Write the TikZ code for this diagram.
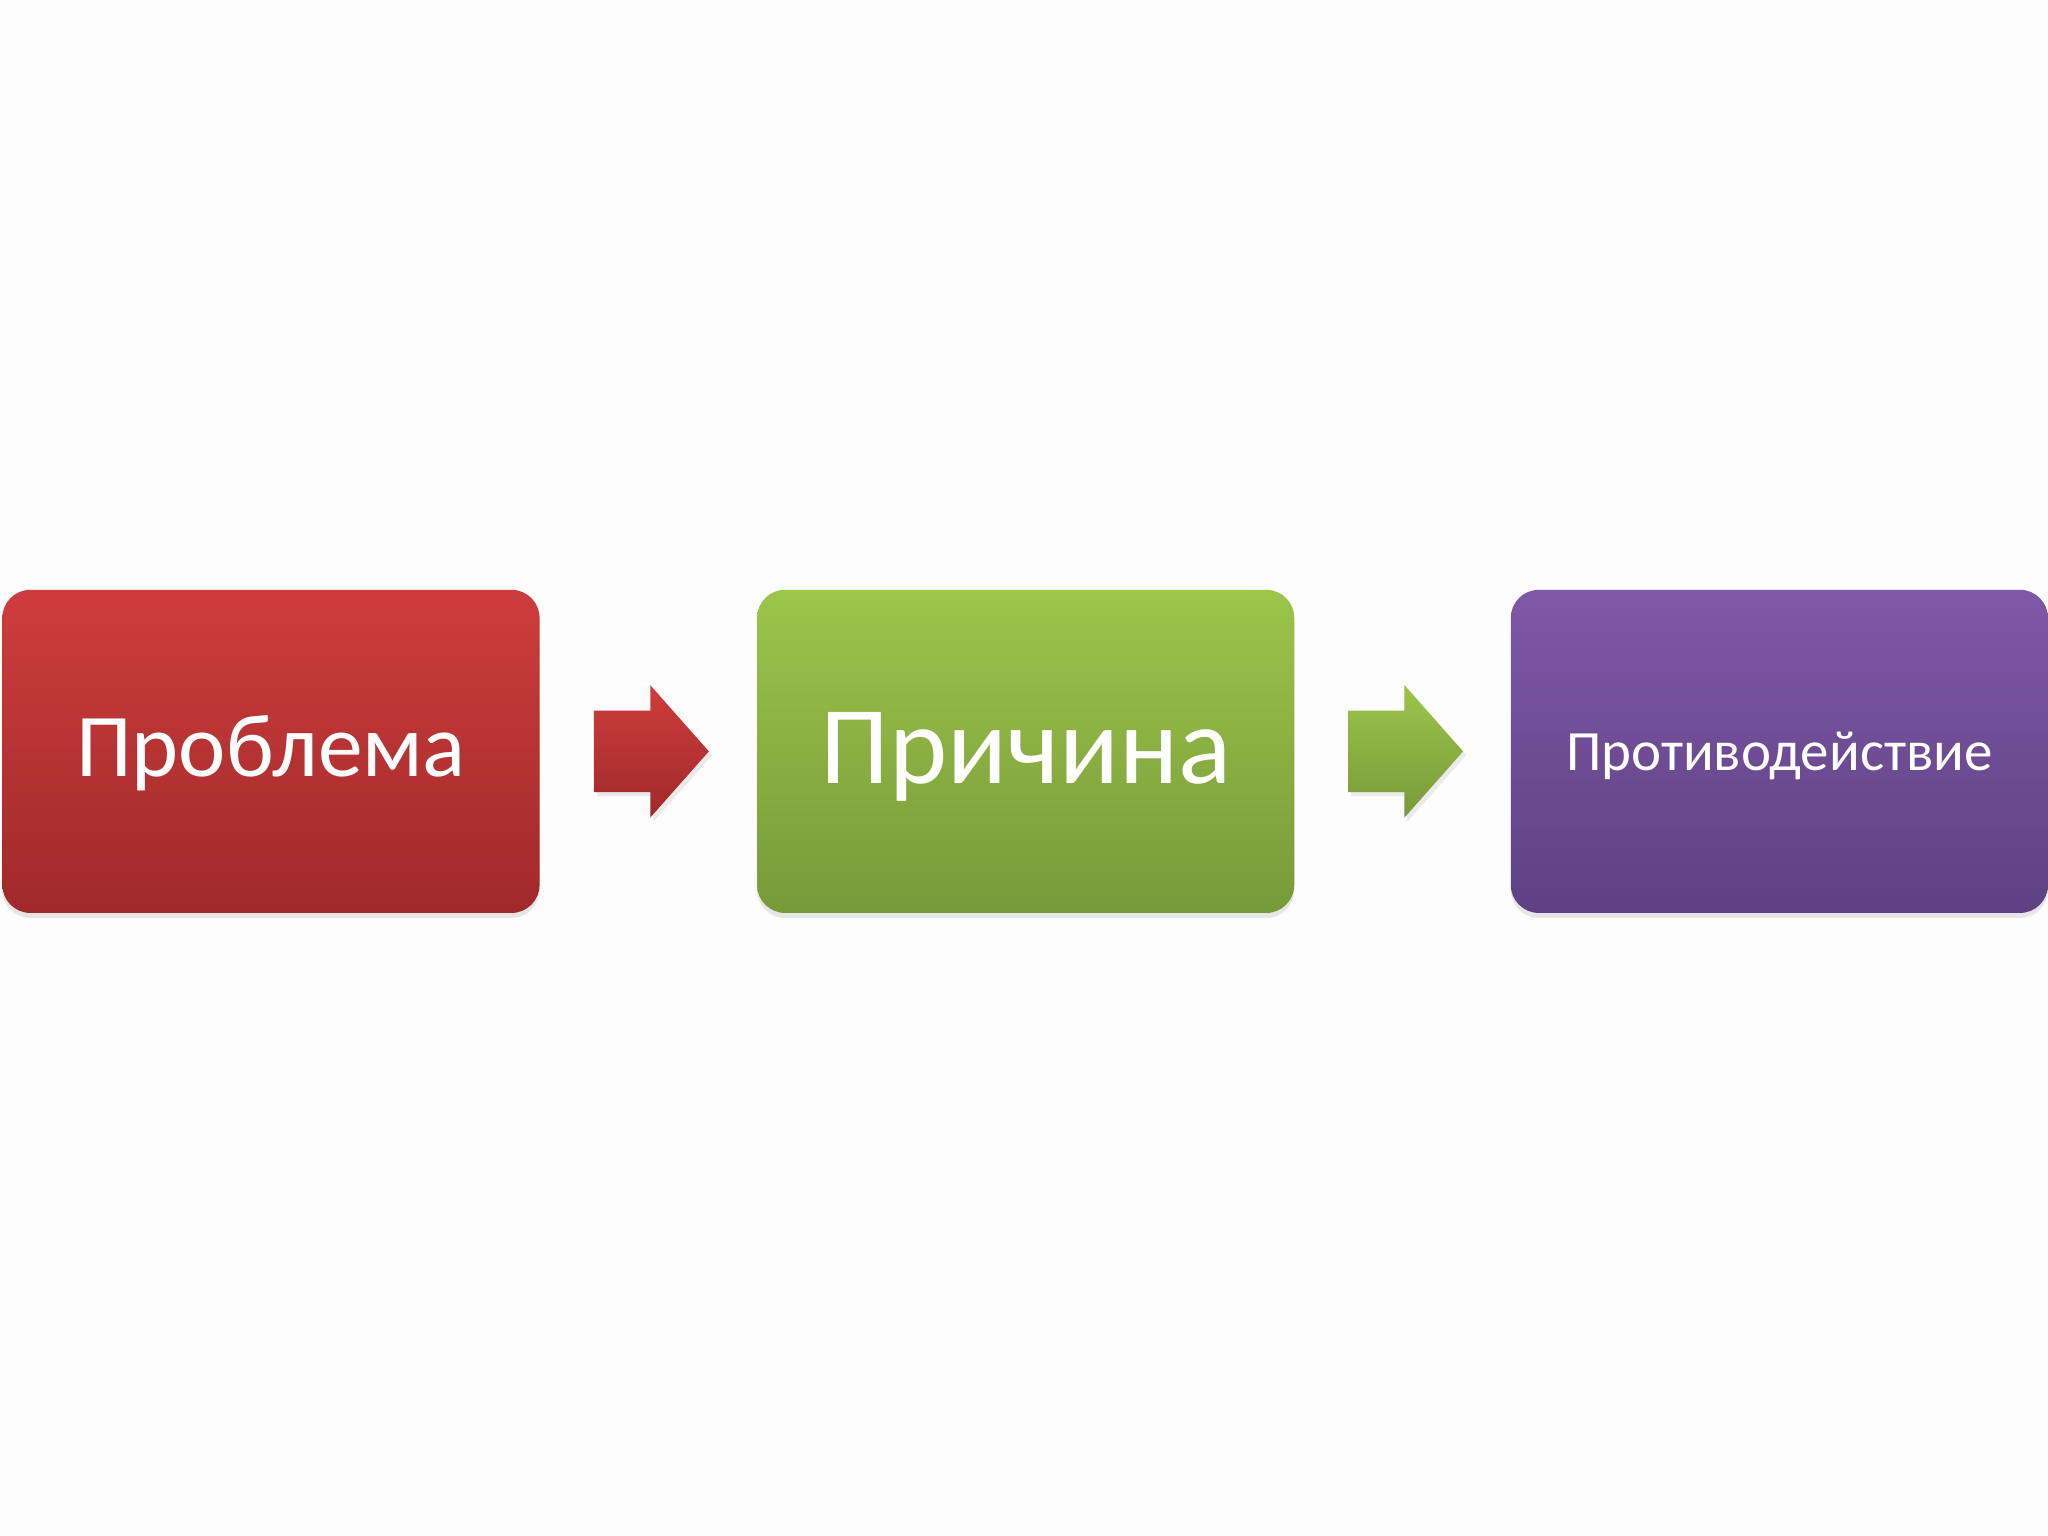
\documentclass[tikz,border=0pt]{standalone}
\usepackage{fontspec}
\setmainfont{Carlito}
\usetikzlibrary{positioning,shapes.arrows,shadows,calc}
\definecolor{bgwhite}{HTML}{FDFDFD}
\definecolor{redtop}{HTML}{CE3D3C}
\definecolor{redbot}{HTML}{A0292A}
\definecolor{greentop}{HTML}{9CC54A}
\definecolor{greenbot}{HTML}{779A39}
\definecolor{violettop}{HTML}{7F58A7}
\definecolor{violetbot}{HTML}{5E4183}
\tikzset{
    %Define style for the coloured boxes
    stage/.style={
           rectangle,
           rounded corners=0.28cm,
           minimum width=5.37cm,
           minimum height=3.23cm,
           inner sep=0pt,
           text depth=0pt,
           text=white,
           drop shadow={opacity=0.18,shadow xshift=0pt,shadow yshift=-0.05cm},
           },
    % Define style for the block arrows
    flow/.style={
           single arrow,
           minimum height=1.15cm,
           inner xsep=0pt,
           inner ysep=0.4cm,
           single arrow head extend=0.255cm,
           single arrow tip angle=97,
           drop shadow={opacity=0.15,shadow xshift=0.03cm,shadow yshift=-0.04cm},
           },
    shred/.style={top color=redtop, bottom color=redbot},
    shgreen/.style={top color=greentop, bottom color=greenbot},
    shviolet/.style={top color=violettop, bottom color=violetbot}
}
\begin{document}
\begin{tikzpicture}[x=0.01cm,y=-0.01cm]
\fill[bgwhite] (0,0) rectangle (2048,1536);
\node[stage,shred,text height=0.51cm,font=\fontsize{25.5pt}{30pt}\selectfont] (problem) at (271,751.5) {Проблема};
\node[stage,shgreen,right=2.16cm of problem,text height=0.64cm,font=\fontsize{31.5pt}{38pt}\selectfont] (cause) {Причина};
\node[stage,shviolet,right=2.15cm of cause,text height=0.38cm,font=\fontsize{16.2pt}{20pt}\selectfont] (counter) {Противодействие};
\node[flow,shred] (arr1) at ($(problem.east)!0.5!(cause.west)+(-15,0)$) {};
\node[flow,shgreen] (arr2) at ($(cause.east)!0.5!(counter.west)+(-15,0)$) {};
\end{tikzpicture}
\end{document}
